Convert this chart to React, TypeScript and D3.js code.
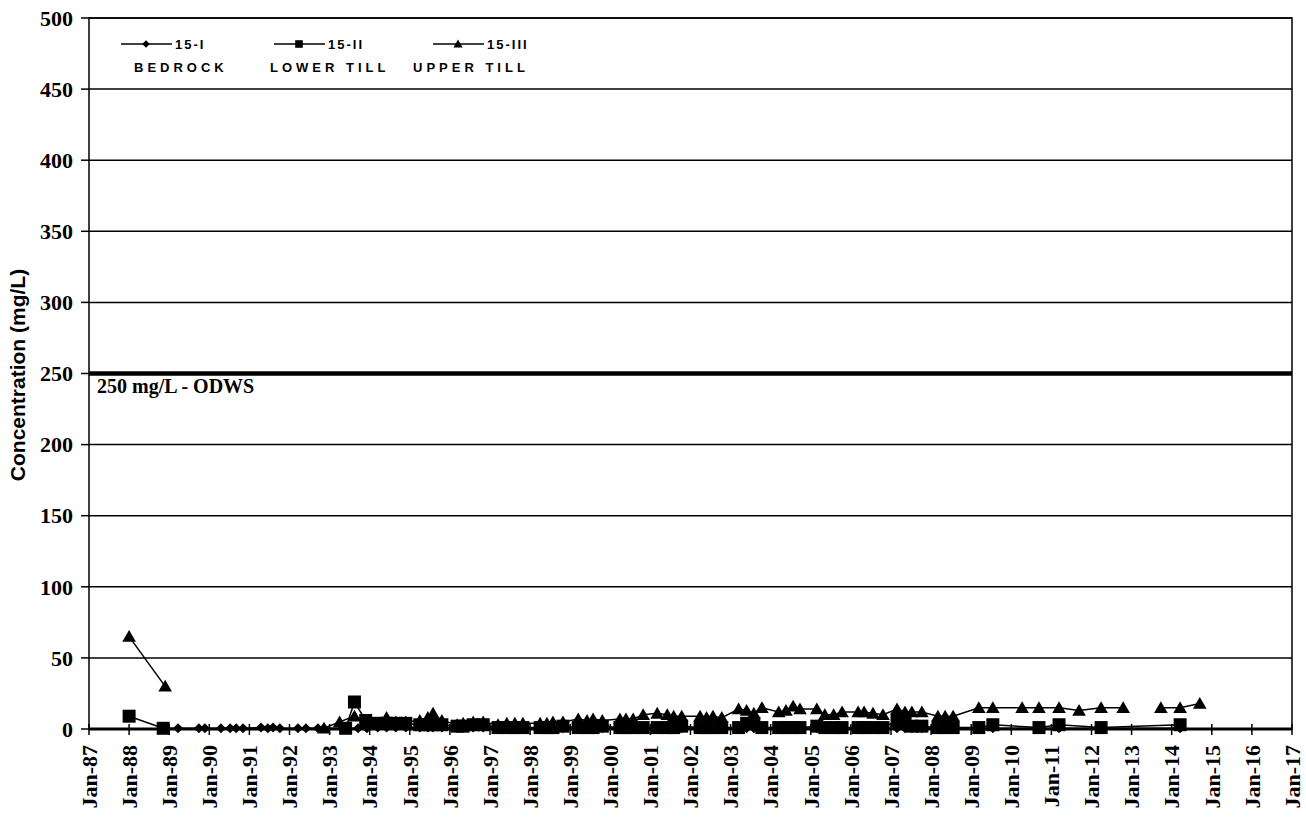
import React from "react";
import * as d3 from "d3";

// ---- DATA (decimal year, mg/L; null = gap in the record) ----
const bedrockDates = [
  1988.85, 1989.22, 1989.74, 1989.89, 1990.29, 1990.52, 1990.67, 1990.84,
  1991.29, 1991.46, 1991.59, 1991.76, 1992.21, 1992.41, 1992.71, 1992.86,
  1993.33, 1993.71, 1993.93,
  1994.2, 1994.42, 1994.65, 1994.9, 1995.25, 1995.45, 1995.58, 1995.8,
  1996.18, 1996.33, 1996.58, 1996.83, 1997.2, 1997.42, 1997.62, 1997.82,
  1998.25, 1998.42, 1998.57, 1998.82, 1999.2, 1999.42, 1999.57, 1999.8,
  2000.24, 2000.39, 2000.57, 2000.82, 2001.17, 2001.42, 2001.58, 2001.78,
  2002.24, 2002.4, 2002.56, 2002.78, 2003.2, 2003.4, 2003.58, 2003.78,
  2004.2, 2004.38, 2004.56, 2004.73, 2005.15, 2005.35, 2005.57, 2005.78,
  2006.18, 2006.33, 2006.55, 2006.8, 2007.15, 2007.35, 2007.52, 2007.77,
  2008.17, 2008.35, 2008.55, 2009.19, 2009.54, 2010.69, 2011.19, 2012.24,
  2014.21,
];
const bedrockValues = [
  0.5, 0.5, 0.5, 0.5, 0.5, 0.5, 0.5, 0.5,
  1, 0.5, 1, 0.5, 0.5, 0.5, 0.5, 0.5,
  0.5, 0.5, 0.5,
  1, 1, 1, 1, 1, 1, 1, 1,
  1, 1, 1, 1, 0.5, 0.5, 0.5, 0.5,
  0.5, 0.5, 0.5, 0.5, 0.5, 0.5, 0.5, 0.5,
  0.5, 0.5, 0.5, 0.5, 0.5, 0.5, 0.5, 0.5,
  0.5, 0.5, 0.5, 0.5, 0.5, 0.5, 0.5, 0.5,
  0.5, 0.5, 0.5, 0.5, 0.5, 0.5, 0.5, 0.5,
  0.5, 0.5, 0.5, 0.5, 0.5, 0.5, 0.5, 0.5,
  0.5, 0.5, 0.5, 0.5, 0.5, 0.5, 0.5, 0.5,
  0.5,
];

const lowerTillDates = [
  1988.0, 1988.85, 1991.0, 1993.4, 1993.62, 1993.9,
  1994.2, 1994.42, 1994.65, 1994.9, 1995.25, 1995.45, 1995.58, 1995.8,
  1996.18, 1996.33, 1996.58, 1996.83, 1997.2, 1997.42, 1997.62, 1997.82,
  1998.25, 1998.42, 1998.57, 1998.82, 1999.2, 1999.42, 1999.57, 1999.8,
  2000.24, 2000.39, 2000.57, 2000.82, 2001.17, 2001.42, 2001.58, 2001.78,
  2002.24, 2002.4, 2002.56, 2002.78, 2003.2, 2003.4, 2003.58, 2003.78,
  2004.2, 2004.38, 2004.56, 2004.73, 2005.15, 2005.35, 2005.57, 2005.78,
  2006.18, 2006.33, 2006.55, 2006.8, 2007.15, 2007.35, 2007.52, 2007.77,
  2008.17, 2008.35, 2008.55, 2009.19, 2009.54, 2010.69, 2011.19, 2012.24,
  2014.21,
];
const lowerTillValues = [
  9, 0.5, null, 0.5, 19, 6,
  4, 4, 4, 4, 3, 3, 3, 3,
  2, 2, 3, 3, 1, 1, 1, 1,
  1, 1, 1, 2, 1, 1, 1, 2,
  1, 1, 1, 1, 1, 1, 1, 2,
  1, 1, 1, 1, 1, 4, 4, 1,
  1, 1, 1, 1, 2, 1, 1, 1,
  1, 1, 1, 1, 6, 4, 2, 2,
  1, 1, 1, 1, 3, 1, 3, 1,
  3,
];

const upperTillDates = [
  1988.0, 1988.9, 1991.0, 1992.86, 1993.25, 1993.62, 1993.9,
  1994.2, 1994.42, 1994.65, 1994.9, 1995.25, 1995.45, 1995.58, 1995.8,
  1996.18, 1996.33, 1996.58, 1996.83, 1997.2, 1997.42, 1997.62, 1997.82,
  1998.25, 1998.42, 1998.57, 1998.82, 1999.2, 1999.42, 1999.57, 1999.8,
  2000.24, 2000.39, 2000.57, 2000.82, 2001.17, 2001.42, 2001.58, 2001.78,
  2002.24, 2002.4, 2002.56, 2002.78, 2003.2, 2003.4, 2003.58, 2003.78,
  2004.2, 2004.38, 2004.56, 2004.73, 2005.15, 2005.35, 2005.57, 2005.78,
  2006.18, 2006.33, 2006.55, 2006.8, 2007.15, 2007.35, 2007.52, 2007.77,
  2008.17, 2008.35, 2008.55, 2009.19, 2009.54, 2010.27, 2010.69, 2011.19,
  2011.69, 2012.24, 2012.79, 2013.3, 2013.73, 2014.21, 2014.7,
];
const upperTillValues = [
  65, 30, null, 0.5, 5, 9, 4,
  3, 8, 5, 5, 6, 8, 11, 6,
  3, 4, 5, 5, 3, 4, 4, 4,
  4, 4, 5, 5, 7, 6, 7, 6,
  7, 7, 7, 10, 11, 10, 9, 9,
  9, 8, 9, 8, 14, 13, 11, 15,
  12, 13, 16, 14, 14, 10, 10, 12,
  12, 12, 11, 10, 14, 12, 12, 12,
  9, 9, 9, 15, 15, 15, 15, 15,
  13, 15, 15, null, 15, 15, 18,
];

const yTicks = [0, 50, 100, 150, 200, 250, 300, 350, 400, 450, 500];
const xTickYears = d3.range(1987, 2018);
const xTickLabels = xTickYears.map((y) => "Jan-" + String(y % 100).padStart(2, "0"));
const odwsValue = 250;
const odwsLabel = "250 mg/L - ODWS";

const seriesNames = ["15-I", "15-II", "15-III"];
const seriesSub = ["BEDROCK", "LOWER TILL", "UPPER TILL"];

// ---- LAYOUT ----
const W = 1306;
const H = 817;
const left = 89;
const right = 1292;
const top = 18;
const bottom = 729;

const serif = "'Liberation Serif', 'Times New Roman', serif";
const sans = "'Liberation Sans', Arial, sans-serif";

function markerPath(kind: string, s: number) {
  if (kind === "diamond") {
    return `M0,${-s}L${s},0L0,${s}L${-s},0Z`;
  }
  if (kind === "square") {
    return `M${-s},${-s}H${s}V${s}H${-s}Z`;
  }
  return `M0,${-s * 1.05}L${s * 1.1},${s * 0.85}L${-s * 1.1},${s * 0.85}Z`;
}

export default function App() {
  const x = d3.scaleLinear().domain([1987, 2017]).range([left, right]);
  const y = d3.scaleLinear().domain([0, 500]).range([bottom, top]);

  const series = [
    { kind: "diamond", size: 5, dates: bedrockDates, values: bedrockValues },
    { kind: "square", size: 6.5, dates: lowerTillDates, values: lowerTillValues },
    { kind: "triangle", size: 6.2, dates: upperTillDates, values: upperTillValues },
  ];

  const line = d3
    .line<[number, number | null]>()
    .defined((d) => d[1] !== null)
    .x((d) => x(d[0]))
    .y((d) => y(d[1] as number));

  const legendX = [121, 274, 433];
  const legendSubX = [134, 270, 413];

  return (
    <svg width={W} height={H} style={{ display: "block", position: "absolute", left: 0, top: 0 }}>
      <rect x={0} y={0} width={W} height={H} fill="#fff" />
      {yTicks.map((t) =>
        t === 0 || t === odwsValue ? null : (
          <line key={"g" + t} x1={left} x2={right} y1={y(t)} y2={y(t)} stroke="#000" strokeWidth={1.5} />
        )
      )}
      <rect x={left} y={top} width={right - left} height={bottom - top} fill="none" stroke="#000" strokeWidth={1.5} />
      <line x1={left} x2={right} y1={y(odwsValue)} y2={y(odwsValue)} stroke="#000" strokeWidth={4.5} />
      <text x={97} y={y(odwsValue) + 19} fontFamily={serif} fontWeight="bold" fontSize={20}>
        {odwsLabel}
      </text>
      {yTicks.map((t) => (
        <g key={"yt" + t}>
          <line x1={left - 8} x2={left} y1={y(t)} y2={y(t)} stroke="#000" strokeWidth={1.5} />
          <text
            x={left - 16}
            y={y(t)}
            dy="0.35em"
            textAnchor="end"
            fontFamily={serif}
            fontWeight="bold"
            fontSize={22}
          >
            {t}
          </text>
        </g>
      ))}
      <text
        transform={`translate(25,375) rotate(-90)`}
        textAnchor="middle"
        fontFamily={sans}
        fontWeight="bold"
        fontSize={21}
      >
        Concentration (mg/L)
      </text>
      <line x1={left} x2={right} y1={bottom} y2={bottom} stroke="#000" strokeWidth={3} />
      {xTickYears.map((yr, i) => (
        <g key={"xt" + yr}>
          <line x1={x(yr)} x2={x(yr)} y1={bottom - 5} y2={bottom + 6} stroke="#000" strokeWidth={1.5} />
          <text
            transform={`translate(${x(yr)},${bottom + 16}) rotate(-90)`}
            dy="0.35em"
            textAnchor="end"
            fontFamily={serif}
            fontWeight="bold"
            fontSize={22}
          >
            {xTickLabels[i]}
          </text>
        </g>
      ))}
      {series.map((s, si) => {
        const pts: [number, number | null][] = s.dates.map((d, i) => [d, s.values[i]]);
        return (
          <g key={"s" + si}>
            <path d={line(pts) || ""} fill="none" stroke="#000" strokeWidth={1.5} />
            {pts.map((p, i) =>
              p[1] === null ? null : (
                <path
                  key={i}
                  transform={`translate(${x(p[0])},${y(p[1] as number)})`}
                  d={markerPath(s.kind, s.size)}
                  fill="#000"
                />
              )
            )}
          </g>
        );
      })}
      {series.map((s, si) => (
        <g key={"l" + si}>
          <line x1={legendX[si]} x2={legendX[si] + 51} y1={44} y2={44} stroke="#000" strokeWidth={1.5} />
          <path
            transform={`translate(${legendX[si] + 25},44)`}
            d={markerPath(s.kind, s.kind === "triangle" ? 4.2 : 3.8)}
            fill="#000"
          />
          <text
            x={legendX[si] + 54}
            y={49}
            fontFamily={sans}
            fontWeight="bold"
            fontSize={13}
            letterSpacing={2}
          >
            {seriesNames[si]}
          </text>
          <text x={legendSubX[si]} y={72} fontFamily={sans} fontWeight="bold" fontSize={13} letterSpacing={4}>
            {seriesSub[si]}
          </text>
        </g>
      ))}
    </svg>
  );
}
